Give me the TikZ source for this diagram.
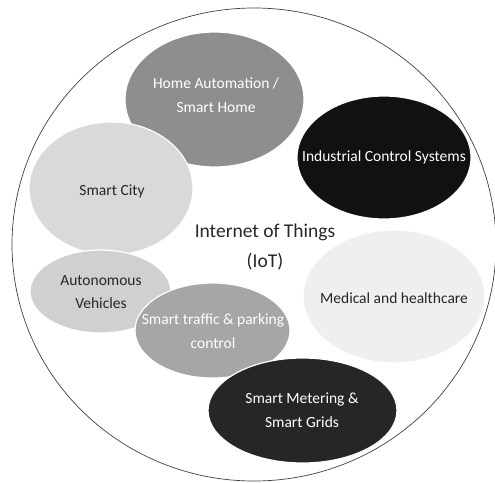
\documentclass[tikz,border=0pt]{standalone}
\usepackage{fontspec}
\setmainfont{Carlito}
\usepackage{xcolor}
\usepackage{tikz}
\usetikzlibrary{shapes.geometric, positioning}

\definecolor{homegray}{HTML}{8E8E8E}
\definecolor{citygray}{HTML}{D9D9D9}
\definecolor{autogray}{HTML}{D0D0D0}
\definecolor{trafficgray}{HTML}{A6A6A6}
\definecolor{medgray}{HTML}{EFEFEF}
\definecolor{indblack}{HTML}{111111}
\definecolor{meterblack}{HTML}{262626}
\definecolor{darktext}{HTML}{262626}

\begin{document}
\begin{tikzpicture}[
    x=1pt, y=-1pt,
    blob/.style={draw=white, line width=1.2pt},
    darklabel/.style={font=\fontsize{15.5}{23.5}\selectfont, align=center, text=darktext},
    lightlabel/.style={font=\fontsize{15.5}{23.5}\selectfont, align=center, text=white}
]
    \useasboundingbox (0,0) rectangle (495,482);
    \clip (0,0) rectangle (495,482);

    % Outer circle around everything
    \draw[black!75, line width=0.7pt] (254,244.5) ellipse [x radius=242, y radius=236.5];

    % Application areas, back to front
    \fill[blob, fill=homegray] (214.5,99.5) ellipse [x radius=89.5, y radius=67.5];
    \fill[blob, fill=indblack] (384,157.5) ellipse [x radius=87, y radius=61.5];
    \fill[blob, fill=citygray] (111,188.5) ellipse [x radius=82, y radius=66.5];
    \fill[blob, fill=medgray] (394,296.5) ellipse [x radius=91, y radius=66.5];
    \fill[blob, fill=autogray] (100.5,291.5) ellipse [x radius=70.5, y radius=41.5];
    \fill[blob, fill=trafficgray] (212.5,330.5) ellipse [x radius=77.5, y radius=47.5];
    \fill[blob, fill=meterblack] (302.5,410.5) ellipse [x radius=94.5, y radius=52.5];

    % Labels
    \node[lightlabel] (home) at (216,95) {Home Automation /\\Smart Home};
    \node[lightlabel] (ind) at (384,157) {Industrial Control Systems};
    \node[darklabel] (city) at (112,191) {Smart City};
    \node[darklabel] (med) at (394,298) {Medical and healthcare};
    \node[darklabel] (auto) at (101,292) {Autonomous\\Vehicles};
    \node[lightlabel] (traffic) at (213,331) {Smart traffic \& parking\\control};
    \node[lightlabel] (meter) at (302,410) {Smart Metering \&\\Smart Grids};

    % Centre title
    \node[font=\fontsize{19.5}{30}\selectfont, align=center, text=darktext] (iot) at (265,247) {Internet of Things\\(IoT)};
\end{tikzpicture}
\end{document}
